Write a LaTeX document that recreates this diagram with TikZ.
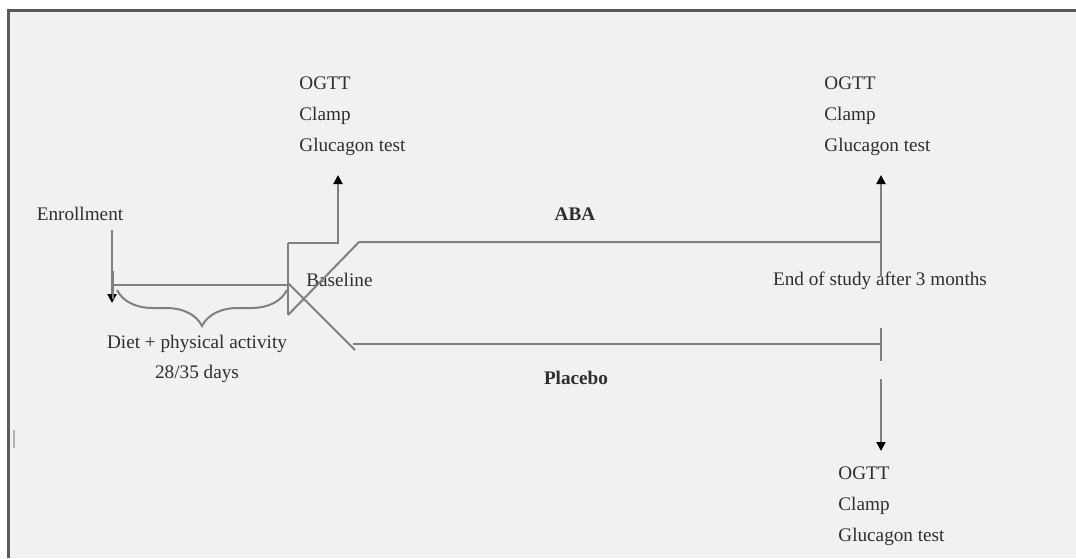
\documentclass[tikz,border=0pt]{standalone}
\usepackage{fontspec}
\setmainfont{Liberation Serif}
\usetikzlibrary{positioning,arrows.meta,decorations.pathreplacing}
\definecolor{paper}{HTML}{F1F1F1}
\definecolor{rule}{HTML}{808080}
\definecolor{ink}{HTML}{2E2E2E}
\definecolor{frame}{HTML}{5A5A5A}

\begin{document}
\begin{tikzpicture}[x=0.5pt,y=-0.5pt,>={Triangle[length=4.5pt,width=4.5pt,color=black]},
                    line/.style={draw=rule,line width=1pt},
                    lbl/.style={inner sep=0pt,anchor=base,text=ink,
                                font=\fontsize{9.6}{11}\selectfont},
                    lbl bold/.style={lbl,font=\fontsize{9.6}{11}\selectfont\bfseries},
                    item/.style={lbl,anchor=base west}]

  \useasboundingbox (0,0) rectangle (1076,558);
  \fill[paper] (9,11) rectangle (1076,558);
  \draw[frame,line width=1.2pt] (8.5,558) -- (8.5,10.5) -- (1076,10.5);
  \draw[rule!60,line width=1.2pt] (14,430) -- (14,448);

  % labels
  \node[lbl]      (enroll)  at (80,220)  {Enrollment};
  \node[item]     (ogttA)   at (299,89)  {OGTT};
  \node[item]     (clampA)  at (299,120) {Clamp};
  \node[item]     (glucA)   at (299,151) {Glucagon test};
  \node[item]     (ogttB)   at (824,89)  {OGTT};
  \node[item]     (clampB)  at (824,120) {Clamp};
  \node[item]     (glucB)   at (824,151) {Glucagon test};
  \node[lbl bold] (aba)     at (575,220) {ABA};
  \node[item]     (base)    at (306,286) {Baseline};
  \node[lbl]      (end)     at (880,285) {End of study after 3 months};
  \node[lbl]      (diet)    at (197,348) {Diet + physical activity};
  \node[lbl]      (days)    at (197,378) {28/35 days};
  \node[lbl bold] (placebo) at (576,384) {Placebo};
  \node[item]     (ogttC)   at (838,479) {OGTT};
  \node[item]     (clampC)  at (838,510) {Clamp};
  \node[item]     (glucC)   at (838,541) {Glucagon test};

  % junctions
  \coordinate (enrollTop) at (112,230);
  \coordinate (enrollEnd) at (112,303);
  \coordinate (runIn)     at (113,285);
  \coordinate (runOut)    at (288,285);
  \coordinate (braceL)    at (117,290);
  \coordinate (braceR)    at (287,290);
  \coordinate (randTop)   at (288,243);
  \coordinate (randBot)   at (288,315);
  \coordinate (randMid)   at (288,283);
  \coordinate (testA)     at (338,243);
  \coordinate (testAEnd)  at (338,175);
  \coordinate (abaStart)  at (359,242);
  \coordinate (abaEnd)    at (881,242);
  \coordinate (plaDiag)   at (355,350);
  \coordinate (plaStart)  at (353,344);
  \coordinate (plaEnd)    at (881,344);
  \coordinate (testB)     at (881,277);
  \coordinate (testBEnd)  at (881,175);
  \coordinate (tickTop)   at (881,328);
  \coordinate (tickBot)   at (881,361);
  \coordinate (testC)     at (881,379);
  \coordinate (testCEnd)  at (881,451);

  \draw[line,->] (enrollTop) -- (enrollEnd);
  \draw[line] (113,271) -- (113,299);
  \draw[line] (runIn) -- (runOut);
  \draw[line,decorate,decoration={brace,mirror,amplitude=18pt}] (braceL) -- (braceR);
  \draw[line] (randTop) -- (randBot);
  \draw[line,->] (randTop) -- (testA) -- (testAEnd);
  \draw[line] (randMid) -- (plaDiag);
  \draw[line] (randBot) -- (abaStart) -- (abaEnd);
  \draw[line] (plaStart) -- (plaEnd);
  \draw[line,->] (testB) -- (testBEnd);
  \draw[line] (tickTop) -- (tickBot);
  \draw[line,->] (testC) -- (testCEnd);
\end{tikzpicture}
\end{document}
